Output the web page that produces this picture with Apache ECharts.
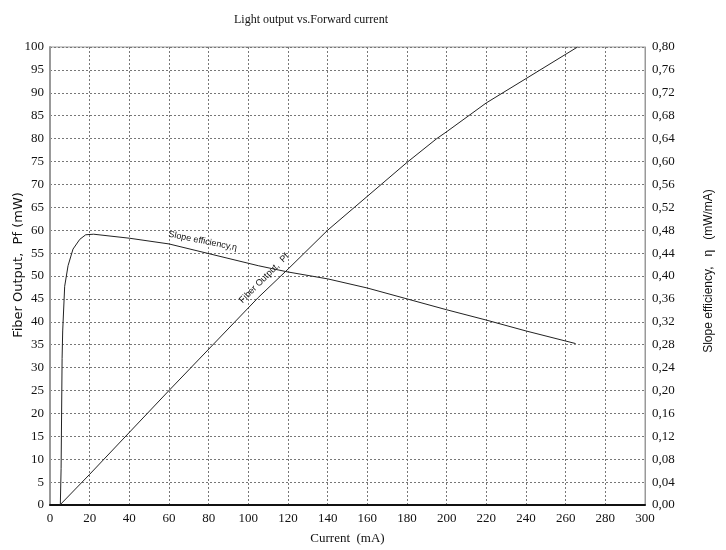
<!DOCTYPE html>
<html>
<head>
<meta charset="utf-8">
<script src="https://cdn.jsdelivr.net/npm/echarts@6/dist/echarts.min.js"></script>
<style>
  html, body { margin: 0; padding: 0; background: #fff; }
  #chart { width: 726px; height: 550px; }
</style>
</head>
<body>
<div id="chart"></div>
<script>
// fiber output Pf (mW) vs current (mA)
const fiberCurrent = [5, 20, 60, 105, 120, 140, 160, 180, 195, 200, 220, 240, 266]
const fiberOutput = [0, 6.7, 25, 45.3, 51.5, 60, 67.4, 74.8, 80, 81.5, 87.8, 93.1, 100]

// slope efficiency eta (mW/mA) vs current (mA)
const slopeCurrent = [5.2, 5.6, 6.1, 6.4, 7.4, 9.1, 11.6, 15, 18, 22, 40, 60, 105, 120, 140, 160, 180, 200, 220, 240, 265]
const slopeEff = [0, 0.064, 0.256, 0.304, 0.382, 0.418, 0.447, 0.464, 0.472, 0.473, 0.466, 0.456, 0.418, 0.407, 0.395, 0.379, 0.36, 0.341, 0.323, 0.304, 0.282]

const serif = '"Liberation Serif", "DejaVu Serif", serif'
const sans = '"Liberation Sans", Arial, sans-serif'

const chart = echarts.init(document.getElementById('chart'))

const option = {
  animation: false,
  backgroundColor: '#fff',
  title: {
    text: 'Light output vs.Forward current',
    left: 306,
    top: 9,
    textAlign: 'center',
    textStyle: { fontFamily: serif, fontSize: 12, fontWeight: 'normal', color: '#111' }
  },
  grid: {
    left: 50,
    right: 81,
    top: 47,
    bottom: 45,
    outerBoundsMode: 'none',
    containLabel: false,
    show: true,
    borderColor: '#999',
    borderWidth: 1
  },
  xAxis: {
    type: 'value',
    min: 0,
    max: 300,
    interval: 20,
    name: 'Current  (mA)',
    nameLocation: 'middle',
    nameGap: 27,
    nameTextStyle: { fontFamily: serif, fontSize: 13, color: '#111' },
    axisLine: { show: true, onZero: false, lineStyle: { color: '#111', width: 2 } },
    axisTick: { show: false },
    axisLabel: { fontFamily: serif, fontSize: 13, color: '#111', margin: 7, showMaxLabel: true },
    splitLine: { show: true, lineStyle: { color: '#777', type: [2, 2], width: 1 } }
  },
  yAxis: [
    {
      type: 'value',
      min: 0,
      max: 100,
      interval: 5,
      name: 'Fiber Output,  Pf (mW)',
      nameLocation: 'middle',
      nameGap: 25,
      nameMoveOverlap: false,
      nameTextStyle: { fontFamily: '"DejaVu Sans", sans-serif', fontSize: 13, color: '#111', padding: [0, 0, 0, 22] },
      axisLine: { show: true, lineStyle: { color: '#999', width: 2 } },
      axisTick: { show: false },
      axisLabel: { fontFamily: serif, fontSize: 13, color: '#111', margin: 6 },
      splitLine: { show: true, lineStyle: { color: '#777', type: [2, 2], width: 1 } }
    },
    {
      type: 'value',
      min: 0,
      max: 0.8,
      interval: 0.04,
      position: 'right',
      name: 'Slope efficiency,   \u03b7   (mW/mA)',
      nameLocation: 'middle',
      nameGap: 58,
      nameRotate: 90,
      nameTextStyle: { fontFamily: sans, fontSize: 12, color: '#111', padding: [0, 0, 0, 10] },
      axisLine: { show: true, lineStyle: { color: '#999', width: 1 } },
      axisTick: { show: false },
      axisLabel: {
        fontFamily: serif, fontSize: 13, color: '#111', margin: 7,
        formatter: v => v.toFixed(2).replace('.', ',')
      },
      splitLine: { show: false }
    }
  ],
  series: [
    {
      name: 'Fiber Output',
      type: 'line',
      yAxisIndex: 0,
      data: fiberCurrent.map((c, i) => [c, fiberOutput[i]]),
      showSymbol: false,
      lineStyle: { color: '#222', width: 1 },
      z: 5
    },
    {
      name: 'Slope efficiency',
      type: 'line',
      yAxisIndex: 1,
      data: slopeCurrent.map((c, i) => [c, slopeEff[i]]),
      showSymbol: false,
      lineStyle: { color: '#222', width: 1 },
      z: 5
    }
  ]
}

chart.setOption(option)

// curve labels placed through the axis scales
const pSlope = chart.convertToPixel({ xAxisIndex: 0, yAxisIndex: 1 }, [77, 0.461])
const pFiber = chart.convertToPixel({ xAxisIndex: 0, yAxisIndex: 0 }, [108, 49.5])
chart.setOption({
  graphic: [
    {
      type: 'text',
      x: pSlope[0],
      y: pSlope[1],
      rotation: -11.5 * Math.PI / 180,
      style: { text: 'Slope efficiency,\u03b7', font: '9px ' + sans, fill: '#111', align: 'center', verticalAlign: 'middle' },
      z: 10
    },
    {
      type: 'text',
      x: pFiber[0],
      y: pFiber[1],
      rotation: 45 * Math.PI / 180,
      style: { text: 'Fiber Output,  Pf', font: '9px ' + sans, fill: '#111', align: 'center', verticalAlign: 'middle' },
      z: 10
    }
  ]
})

window.addEventListener('resize', () => chart.resize())
</script>
</body>
</html>
